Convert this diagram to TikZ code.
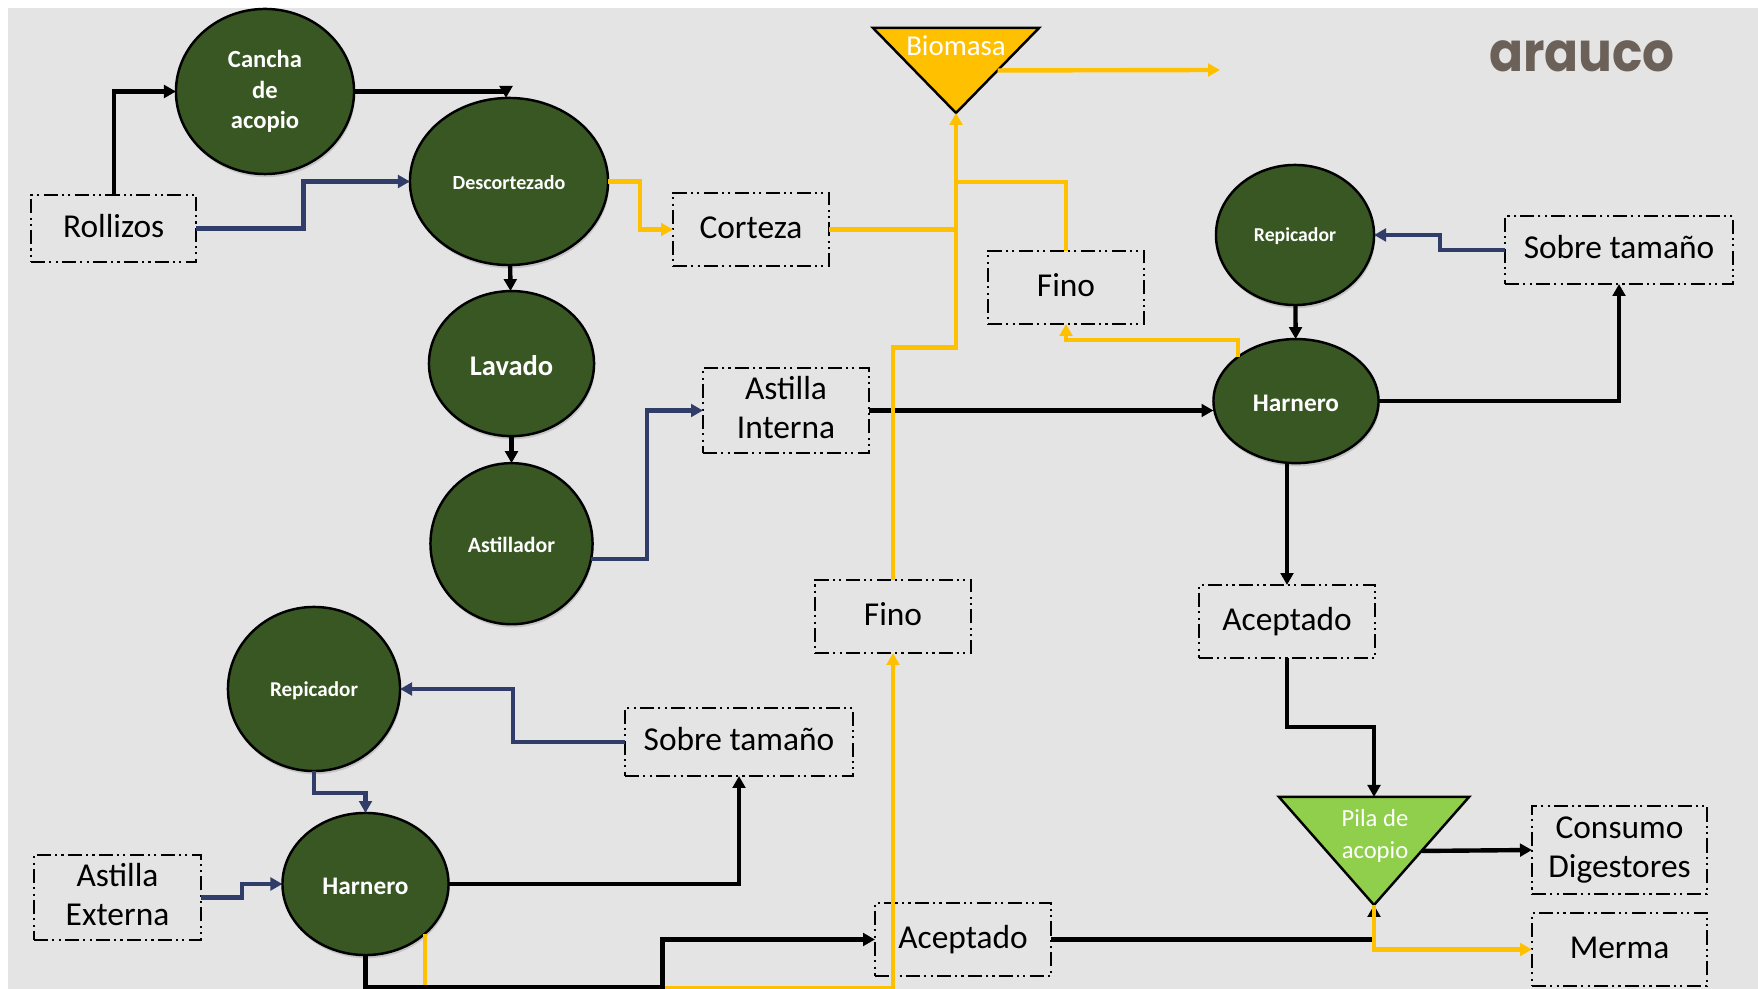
\documentclass[tikz,border=0pt]{standalone}
\usepackage{fontspec}
\setmainfont{Carlito}
\newfontfamily\logofont{Poppins}
\usetikzlibrary{arrows.meta}
\usetikzlibrary{positioning}
\usetikzlibrary{shadows}
\usetikzlibrary{shapes.geometric}
\definecolor{sheet}{HTML}{E4E4E4}
\definecolor{stagegreen}{HTML}{385723}
\definecolor{pilegreen}{HTML}{8FCF4B}
\definecolor{gold}{HTML}{FFC000}
\definecolor{navy}{HTML}{2F3D68}
\definecolor{logobrown}{HTML}{6B6158}
\newcommand{\stockstrut}{\rule[-1.6pt]{0pt}{8.2pt}}
\tikzset{
  > = {Triangle[length = 3.4pt, width = 3.6pt]},
  stage/.style = {ellipse,
                  draw,
                  line width = 0.7pt,
                  fill = stagegreen,
                  text = white,
                  align = center,
                  inner sep = 0pt,
                  outer sep = 0pt,
                  execute at begin node = \rule{0pt}{1.7ex},
                  drop shadow = {shadow xshift = 0.3pt, shadow yshift = -0.9pt, opacity = 0.3}},
  stock/.style = {rectangle,
                  draw,
                  line width = 0.55pt,
                  dash pattern = on 4pt off 1.2pt on 0.6pt off 1.2pt on 0.6pt off 1.2pt,
                  align = center,
                  inner sep = 0pt,
                  outer sep = 0pt,
                  execute at begin node = \stockstrut,
                  execute at end node = \stockstrut,
                  font = \fontsize{9.5}{11.2}\selectfont},
  pile/.style = {isosceles triangle,
                 isosceles triangle stretches,
                 shape border rotate = -90,
                 draw,
                 line width = 0.7pt,
                 inner sep = 0pt,
                 outer sep = 0pt},
  pilelabel/.style = {text = white,
                      align = center,
                      inner sep = 0pt},
  black flow/.style = {->, line width = 1.25pt},
  navy flow/.style = {->, draw = navy, line width = 1.25pt},
  gold flow/.style = {->, draw = gold, line width = 1.25pt},
  gold line/.style = {draw = gold, line width = 1.25pt}
}
\begin{document}
\begin{tikzpicture}[x = 0.01cm, y = -0.01cm]

\useasboundingbox (0,0) rectangle (1758,989);
\fill[sheet] (8,8) rectangle (1758,989);

% upper line
\node[stage, minimum width = 1.78cm, minimum height = 1.65cm,
      font = \fontsize{7}{8.7}\selectfont\bfseries](cancha) at (265,91.5){Cancha\\de\\acopio};

\node[stage, minimum width = 1.98cm, minimum height = 1.67cm,
      font = \fontsize{5.7}{7}\selectfont\bfseries](descortezado) at (509,181.5){Descortezado};

\node[stage, minimum width = 1.65cm, minimum height = 1.45cm,
      font = \fontsize{8.1}{10}\selectfont\bfseries](lavado)[below = 0.26cm of descortezado, xshift = 0.025cm]{Lavado}
  edge[<-, line width = 1.25pt](descortezado);

\node[stage, minimum width = 1.62cm, minimum height = 1.61cm,
      font = \fontsize{6.2}{8}\selectfont\bfseries](astillador)[below = 0.27cm of lavado]{Astillador}
  edge[<-, line width = 1.25pt](lavado);

\node[stock, minimum width = 1.654cm, minimum height = 0.67cm](rollizos) at (113.7,228.5){Rollizos};
\node[stock, minimum width = 1.56cm, minimum height = 0.73cm](corteza) at (751,229.5){Corteza};
\node[stock, minimum width = 1.66cm, minimum height = 0.85cm](astilla-interna) at (786,410.5){Astilla\\Interna};
\node[stock, minimum width = 1.56cm, minimum height = 0.73cm](fino-up) at (1066,287.5){Fino};

% right line
\node[stage, minimum width = 1.58cm, minimum height = 1.40cm,
      font = \fontsize{5.6}{7}\selectfont\bfseries](repicador-up) at (1295,235){Repicador};

\node[stage, minimum width = 1.65cm, minimum height = 1.24cm,
      font = \fontsize{7.2}{9}\selectfont\bfseries](harnero-up)[below = 0.34cm of repicador-up, xshift = 0.01cm]{Harnero}
  edge[<-, line width = 1.25pt](repicador-up);

\node[stock, minimum width = 2.28cm, minimum height = 0.68cm](sobre-up) at (1619,250){Sobre tamaño};
\node[stock, minimum width = 1.76cm, minimum height = 0.73cm](aceptado-up) at (1287,621.5){Aceptado};

% lower line
\node[stage, minimum width = 1.72cm, minimum height = 1.64cm,
      font = \fontsize{6}{8}\selectfont\bfseries](repicador-low) at (314,689){Repicador};

\node[stage, minimum width = 1.66cm, minimum height = 1.42cm,
      font = \fontsize{7.2}{9}\selectfont\bfseries](harnero-low) at (365.5,884){Harnero};

\node[stock, minimum width = 2.28cm, minimum height = 0.68cm](sobre-low) at (739,742){Sobre tamaño};
\node[stock, minimum width = 1.67cm, minimum height = 0.85cm](astilla-externa) at (117.5,897.5){Astilla\\Externa};
\node[stock, minimum width = 1.56cm, minimum height = 0.73cm](fino-low) at (893,616.5){Fino};
\node[stock, minimum width = 1.76cm, minimum height = 0.73cm](aceptado-low) at (963,939.5){Aceptado};

% piles
\node[pile, fill = gold, minimum width = 1.66cm, minimum height = 0.85cm, anchor = apex](biomasa) at (956,113){};
\node[pilelabel, font = \fontsize{8.2}{9}\selectfont](biomasa-text) at (956,46){Biomasa};

\node[pile, fill = pilegreen, minimum width = 1.90cm, minimum height = 1.08cm, anchor = apex](pila) at (1374,905){};
\node[pilelabel, font = \fontsize{7}{9}\selectfont](pila-text) at (1375,836){Pila de\\acopio};

\node[stock, minimum width = 1.75cm, minimum height = 0.88cm](consumo) at (1619.5,850){Consumo\\Digestores};
\node[stock, minimum width = 1.75cm, minimum height = 0.73cm](merma) at (1619.5,949.5){Merma};

\node[text = logobrown, inner sep = 0pt, font = \logofont\fontsize{15.5}{16}\selectfont\bfseries](logo) at (1582,56.5){\scalebox{0.92}[1]{arauco}};

\coordinate (biomasa-out) at (1220,70);

% black
\draw[black flow] (rollizos.north) |- (cancha.west);
\draw[black flow] (cancha.east) -| ([xshift = -0.03cm]descortezado.north);
\draw[black flow] (astilla-interna.east) -- (astilla-interna.east -| harnero-up.west);
\draw[black flow] (harnero-up.east) -| (sobre-up.south);
\draw[black flow] (aceptado-up.north |- harnero-up.south) -- (aceptado-up.north);
\draw[black flow] (aceptado-up.south) -- ++(0,69) -| (pila.lower side);
\draw[black flow] (pila.left side) -- (consumo.west);
\draw[black flow] (harnero-low.east) -| (sobre-low.south);
\draw[black flow] (aceptado-low.east) -| (pila.apex);

% navy
\draw[navy flow] (rollizos.east) -- ++(107,0) |- (descortezado.west);
\draw[navy flow] (astillador.-11) -- ++(56,0) |- (astilla-interna.west);
\draw[navy flow] (sobre-up.west) -- ++(-65,0) |- (repicador-up.east);
\draw[navy flow] (sobre-low.west) -- ++(-112,0) |- (repicador-low.east);
\draw[navy flow] (repicador-low.south) -- ++(0,22) -| (harnero-low.north);
\draw[navy flow] (astilla-externa.east) -- ++(41,0) |- (harnero-low.west);

% gold
\draw[gold flow] (descortezado.east) -- ++(32,0) |- (corteza.west);
\draw[gold line] (corteza.east) -- (corteza.east -| biomasa.apex);
\draw[gold line] (fino-up.north) -- ++(0,-69) -- ++(-110,0);
\draw[gold flow] (fino-low.north) -- ++(0,-232.5) -| (biomasa.apex);
\draw[gold flow] (harnero-up.143) -- ++(0,-17) -| (fino-up.south);
\draw[gold flow] (harnero-low.-40) -- ++(0,54) -| (fino-low.south);
\draw[gold flow] (biomasa.left side) -- (biomasa-out);
\draw[gold flow] (pila.apex) |- (merma.west);
\draw[black flow] (harnero-low.south) -- ++(0,32) -- ++(297,0) |- (aceptado-low.west);

\end{tikzpicture}
\end{document}
